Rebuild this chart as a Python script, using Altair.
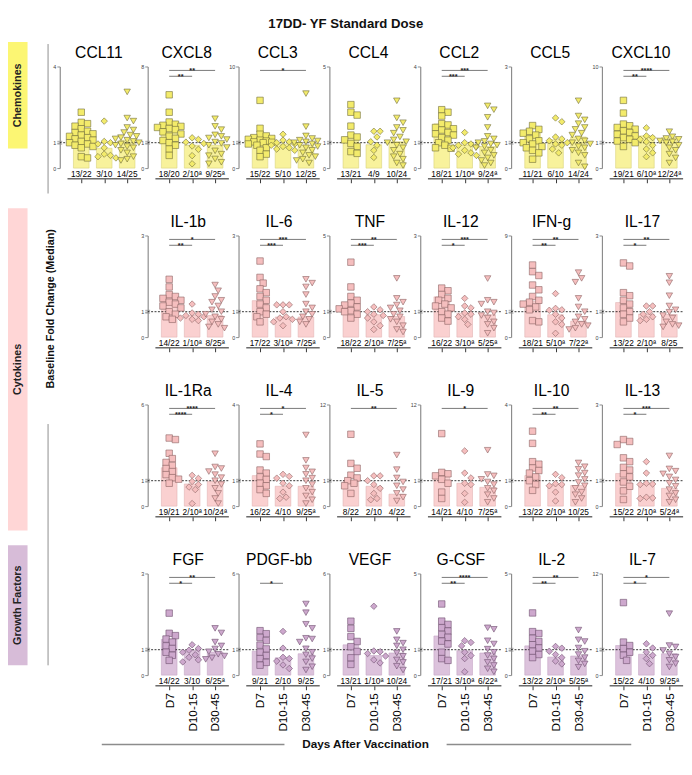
import altair as alt
import pandas as pd

GROUPS = ["D7", "D10-15", "D30-45"]
SHAPES = ["square", "diamond", "triangle-down"]

# ---------------- data ----------------
CCL11 = dict(name="CCL11", ymax=4, med=[1.3, 0.78, 1.1], n=["13/22", "3/10", "14/25"], sig=[],
             d7=[2.2, 1.8, 1.75, 1.65, 1.55, 1.45, 1.4, 1.35, 1.3, 1.25, 1.2, 1.15, 1.1, 1.05, 1.0, 0.95, 0.9, 0.85, 0.8, 0.45, 0.4],
             d10=[1.85, 1.05, 1.0, 0.95, 0.8, 0.55, 0.5, 0.45, 0.4],
             d30=[3.0, 1.97, 1.85, 1.6, 1.5, 1.4, 1.3, 1.25, 1.2, 1.15, 1.1, 1.05, 1.0, 0.95, 0.9, 0.85, 0.8, 0.7, 0.6, 0.45, 0.35, 0.3])
CXCL8 = dict(name="CXCL8", ymax=8, med=[2.5, 0.9, 0.9], n=["18/20", "2/10ª", "9/25ª"], sig=[(0, 1, "**"), (0, 2, "**")],
             d7=[5.4, 3.8, 2.9, 2.7, 2.6, 2.5, 2.4, 2.3, 2.2, 2.0, 1.8, 1.6, 1.4, 1.2, 1.0, 0.9, 0.75, 0.5],
             d10=[1.45, 1.3, 1.05, 0.97, 0.87, 0.74, 0.49, 0.17],
             d30=[3.2, 2.5, 2.2, 1.72, 1.58, 1.43, 1.29, 1.06, 0.97, 0.9, 0.81, 0.68, 0.55, 0.49, 0.36, 0.23, 0.17])
CCL3 = dict(name="CCL3", ymax=10, med=[1.5, 0.95, 0.9], n=["15/22", "5/10", "12/25"], sig=[(0, 2, "*")],
            d7=[6.0, 2.7, 2.0, 1.8, 1.6, 1.5, 1.4, 1.3, 1.2, 1.1, 1.05, 1.0, 0.95, 0.9, 0.8, 0.7, 0.55, 0.45],
            d10=[2.0, 1.3, 1.1, 1.0, 0.95, 0.9, 0.85, 0.8, 0.75, 0.7],
            d30=[6.8, 2.9, 1.8, 1.5, 1.3, 1.2, 1.1, 1.0, 0.95, 0.9, 0.85, 0.8, 0.7, 0.6, 0.5, 0.45, 0.35, 0.3, 0.2])
CCL4 = dict(name="CCL4", ymax=5, med=[1.3, 0.92, 1.05], n=["13/21", "4/9", "10/24"], sig=[],
            d7=[3.0, 2.6, 2.45, 1.87, 1.4, 1.3, 1.15, 0.97, 0.85, 0.65, 0.58],
            d10=[1.6, 1.6, 1.3, 1.05, 0.9, 0.7, 0.42],
            d30=[3.2, 2.3, 2.05, 1.8, 1.65, 1.5, 1.3, 1.15, 1.05, 1.0, 0.9, 0.8, 0.7, 0.55, 0.45, 0.35, 0.2, 0.1])
CCL2 = dict(name="CCL2", ymax=4, med=[1.74, 0.91, 0.85], n=["18/21", "1/10ª", "9/24ª"], sig=[(0, 1, "***"), (0, 2, "***")],
            d7=[2.3, 2.2, 2.05, 1.75, 1.7, 1.6, 1.55, 1.5, 1.4, 1.35, 1.3, 1.2, 1.1, 1.0, 0.9, 0.8, 0.78],
            d10=[1.4, 1.0, 0.95, 0.9, 0.85, 0.8, 0.7, 0.6, 0.55, 0.5],
            d30=[2.45, 2.3, 2.0, 1.6, 1.25, 1.15, 1.05, 1.0, 0.95, 0.9, 0.85, 0.8, 0.7, 0.6, 0.5, 0.4, 0.3, 0.2, 0.1])
CCL5 = dict(name="CCL5", ymax=3, med=[1.25, 1.08, 1.15], n=["11/21", "6/10", "14/24"], sig=[],
            d7=[1.45, 1.35, 1.3, 1.25, 1.2, 1.1, 1.05, 1.0, 0.95, 0.85, 0.8, 0.7, 0.6, 0.35],
            d10=[1.65, 1.55, 1.15, 1.1, 1.05, 1.0, 0.95, 0.9, 0.75, 0.6],
            d30=[2.1, 1.7, 1.6, 1.5, 1.4, 1.35, 1.25, 1.2, 1.1, 1.05, 1.0, 0.95, 0.85, 0.8, 0.7, 0.6, 0.5, 0.2, 0.05])
CXCL10 = dict(name="CXCL10", ymax=10, med=[2.75, 1.8, 1.6], n=["19/21", "6/10ª", "12/24ª"], sig=[(0, 1, "**"), (0, 2, "****")],
              d7=[6.0, 4.5, 3.2, 3.0, 2.8, 2.6, 2.4, 2.2, 2.0, 1.8, 1.6, 1.4, 1.2, 1.0, 0.85],
              d10=[2.75, 1.8, 1.6, 1.4, 1.1, 0.9, 0.75, 0.6, 0.45],
              d30=[2.3, 1.7, 1.5, 1.4, 1.2, 1.1, 1.0, 0.9, 0.8, 0.7, 0.55, 0.4, 0.2])

IL1b = dict(name="IL-1b", ymax=3, med=[1.42, 0.85, 0.85], n=["14/22", "1/10ª", "8/25ª"], sig=[(0, 1, "**"), (0, 2, "*")],
            d7=[1.85, 1.65, 1.45, 1.4, 1.35, 1.3, 1.25, 1.2, 1.15, 1.1, 1.0, 0.9, 0.8, 0.7],
            d10=[1.2, 0.95, 0.9, 0.85, 0.8, 0.75, 0.7, 0.65],
            d30=[1.7, 1.55, 1.4, 1.3, 1.25, 1.15, 1.05, 1.0, 0.9, 0.8, 0.7, 0.6, 0.5, 0.4, 0.35])
IL6 = dict(name="IL-6", ymax=3, med=[1.29, 0.79, 0.79], n=["17/22", "3/10ª", "7/25ª"], sig=[(0, 1, "***"), (0, 2, "***")],
           d7=[2.33, 1.9, 1.75, 1.6, 1.5, 1.4, 1.3, 1.2, 1.1, 1.0, 0.9, 0.8, 0.6],
           d10=[1.18, 1.18, 1.18, 1.0, 0.8, 0.75, 0.7, 0.6, 0.45],
           d30=[1.85, 1.75, 1.65, 1.45, 1.2, 1.1, 1.0, 0.9, 0.8, 0.7, 0.6, 0.5])
TNF = dict(name="TNF", ymax=5, med=[1.44, 0.88, 0.81], n=["18/22", "2/10ª", "7/25ª"], sig=[(0, 1, "***"), (0, 2, "**")],
           d7=[3.6, 2.3, 1.8, 1.6, 1.45, 1.35, 1.25, 1.15, 1.05, 1.0, 0.9, 0.75],
           d10=[1.25, 1.1, 1.0, 0.9, 0.85, 0.75, 0.6, 0.45, 0.3],
           d30=[2.75, 1.7, 1.5, 1.35, 1.2, 1.05, 0.9, 0.8, 0.7, 0.6, 0.45, 0.3, 0.2])
IL12 = dict(name="IL-12", ymax=3, med=[1.39, 0.94, 0.88], n=["16/22", "3/10ª", "5/25ª"], sig=[(0, 1, "*"), (0, 2, "***")],
            d7=[1.62, 1.55, 1.45, 1.35, 1.3, 1.2, 1.15, 1.1, 1.0, 0.9, 0.75, 0.63],
            d10=[1.35, 1.15, 1.1, 0.95, 0.9, 0.8, 0.7, 0.5],
            d30=[1.87, 1.3, 1.25, 1.2, 1.0, 0.95, 0.85, 0.75, 0.6, 0.5, 0.35, 0.15])
IFNg = dict(name="IFN-g", ymax=9, med=[2.1, 0.88, 0.63], n=["18/21", "5/10ª", "7/22ª"], sig=[(0, 1, "**"), (0, 2, "**")],
            d7=[5.9, 5.2, 4.8, 3.8, 3.3, 2.6, 2.2, 2.0, 1.8, 1.5, 1.2, 0.65, 0.6],
            d10=[2.9, 1.35, 1.2, 1.15, 0.9, 0.75, 0.6, 0.5, 0.15],
            d30=[5.1, 4.5, 4.1, 2.4, 1.5, 1.0, 0.8, 0.7, 0.6, 0.5, 0.45, 0.35, 0.3])
IL17 = dict(name="IL-17", ymax=3, med=[1.24, 0.91, 0.89], n=["13/22", "2/10ª", "8/25"], sig=[(0, 1, "*"), (0, 2, "**")],
            d7=[2.28, 2.2, 1.5, 1.42, 1.3, 1.2, 1.1, 1.0, 0.9, 0.75, 0.6],
            d10=[1.15, 1.15, 1.0, 0.9, 0.8, 0.7, 0.65],
            d30=[1.93, 1.76, 1.42, 1.15, 1.05, 0.98, 0.85, 0.75, 0.6, 0.5, 0.45, 0.4])

IL1Ra = dict(name="IL-1Ra", ymax=6, med=[1.85, 0.87, 0.97], n=["19/21", "2/10ª", "10/24ª"], sig=[(0, 1, "****"), (0, 2, "****")],
             d7=[3.8, 3.7, 2.8, 2.45, 2.2, 2.0, 1.8, 1.6, 1.4, 1.2, 1.1, 0.9],
             d10=[1.35, 1.15, 0.97, 0.85, 0.75, 0.65, 0.1],
             d30=[2.77, 1.9, 1.8, 1.6, 1.4, 1.2, 1.0, 0.85, 0.7, 0.5, 0.3, 0.1])
IL4 = dict(name="IL-4", ymax=4, med=[1.2, 0.78, 0.78], n=["16/22", "4/10", "9/25ª"], sig=[(0, 1, "*"), (0, 2, "*")],
           d7=[2.45, 2.05, 1.95, 1.42, 1.3, 1.15, 1.05, 0.9, 0.8, 0.65, 0.5],
           d10=[1.25, 1.17, 1.1, 0.9, 0.8, 0.55, 0.35, 0.3],
           d30=[2.8, 1.8, 1.5, 1.35, 1.25, 1.1, 1.0, 0.85, 0.7, 0.55, 0.4, 0.25, 0.1])
IL5 = dict(name="IL-5", ymax=12, med=[1.0, 0.78, 0.47], n=["8/22", "2/10", "4/22"], sig=[(0, 2, "**")],
           d7=[7.7, 3.5, 2.8, 1.8, 1.4, 1.0, 0.9, 0.8, 0.5],
           d10=[1.7, 1.7, 1.0, 0.85, 0.7, 0.5, 0.3, 0.25],
           d30=[4.7, 2.6, 1.4, 0.95, 0.8, 0.65, 0.5, 0.35, 0.2])
IL9 = dict(name="IL-9", ymax=12, med=[1.8, 0.9, 0.74], n=["14/21", "4/10", "7/25ª"], sig=[(0, 2, "*")],
           d7=[7.8, 2.2, 2.0, 1.7, 1.2, 0.9, 0.55, 0.3],
           d10=[5.3, 2.1, 1.4, 0.9, 0.85, 0.5, 0.15],
           d30=[5.4, 1.9, 1.7, 1.2, 0.95, 0.85, 0.7, 0.6, 0.45, 0.3, 0.15])
IL10 = dict(name="IL-10", ymax=4, med=[1.2, 0.85, 0.81], n=["13/22", "2/10ª", "10/25"], sig=[(0, 1, "**"), (0, 2, "**")],
            d7=[2.95, 2.47, 1.75, 1.65, 1.5, 1.4, 1.3, 1.15, 1.0, 0.85, 0.62],
            d10=[1.25, 1.12, 0.88, 0.85, 0.8, 0.55, 0.2],
            d30=[1.7, 1.55, 1.45, 1.3, 1.2, 1.05, 0.93, 0.8, 0.7, 0.55, 0.45, 0.3, 0.15])
IL13 = dict(name="IL-13", ymax=3, med=[1.19, 0.87, 0.7], n=["15/22", "2/10ª", "5/24ª"], sig=[(0, 1, "*"), (0, 2, "***")],
            d7=[2.08, 2.03, 1.95, 1.6, 1.5, 1.35, 1.28, 1.18, 1.1, 0.95, 0.78, 0.6, 0.26],
            d10=[1.5, 1.2, 0.9, 0.87, 0.85, 0.35, 0.32, 0.3],
            d30=[1.65, 1.31, 1.25, 1.18, 1.1, 1.02, 0.9, 0.78, 0.65, 0.5, 0.4, 0.25, 0.15])

FGF = dict(name="FGF", ymax=3, med=[1.27, 0.97, 0.91], n=["14/22", "3/10", "6/25ª"], sig=[(0, 1, "*"), (0, 2, "**")],
           d7=[1.96, 1.43, 1.37, 1.28, 1.2, 1.1, 1.03, 0.9, 0.78, 0.58],
           d10=[1.13, 1.03, 0.98, 0.9, 0.8, 0.7, 0.6, 0.52],
           d30=[1.56, 1.44, 1.2, 1.1, 1.02, 0.92, 0.82, 0.75, 0.68, 0.62])
PDGF = dict(name="PDGF-bb", ymax=6, med=[0.94, 0.68, 0.84], n=["9/21", "2/10", "9/25"], sig=[(0, 1, "*")],
            d7=[2.25, 2.05, 1.8, 1.6, 1.3, 1.05, 0.9, 0.77, 0.65, 0.5, 0.39],
            d10=[2.2, 1.1, 0.7, 0.65, 0.55, 0.4, 0.26],
            d30=[4.0, 3.43, 2.67, 2.4, 1.75, 1.7, 1.5, 1.06, 0.9, 0.8, 0.65, 0.52, 0.33, 0.2])
VEGF = dict(name="VEGF", ymax=6, med=[1.32, 0.77, 0.87], n=["13/21", "1/10ª", "10/24"], sig=[],
            d7=[2.87, 2.4, 1.86, 1.54, 1.2, 0.93, 0.68, 0.42],
            d10=[3.85, 0.95, 0.92, 0.85, 0.75, 0.6, 0.48],
            d30=[2.2, 1.65, 1.43, 1.25, 1.0, 0.87, 0.74, 0.6, 0.5, 0.35, 0.2])
GCSF = dict(name="G-CSF", ymax=5, med=[1.72, 0.96, 0.87], n=["17/21", "3/10ª", "6/22ª"], sig=[(0, 1, "**"), (0, 2, "****")],
            d7=[3.4, 2.5, 2.33, 2.15, 1.98, 1.8, 1.65, 1.45, 1.3, 0.9, 0.65, 0.58],
            d10=[1.47, 1.38, 1.2, 0.9, 0.77, 0.65, 0.13],
            d30=[2.15, 2.07, 1.47, 1.3, 1.03, 0.9, 0.77, 0.64, 0.5, 0.38, 0.25, 0.13])
IL2 = dict(name="IL-2", ymax=5, med=[1.2, 0.71, 0.75], n=["13/22", "2/10ª", "5/25ª"], sig=[(0, 1, "**"), (0, 2, "**")],
           d7=[2.93, 1.95, 1.85, 1.6, 1.43, 1.26, 1.09, 0.94, 0.81, 0.69],
           d10=[1.17, 1.08, 0.94, 0.81, 0.69, 0.55, 0.44],
           d30=[2.03, 1.52, 1.43, 1.09, 0.94, 0.81, 0.69, 0.56, 0.44, 0.31])
IL7 = dict(name="IL-7", ymax=12, med=[1.6, 0.82, 0.84], n=["15/22", "4/10", "9/25ª"], sig=[(0, 1, "*"), (0, 2, "*")],
           d7=[7.8, 2.1, 1.6, 1.15, 0.9, 0.78, 0.58],
           d10=[1.85, 1.24, 0.9, 0.78, 0.65, 0.45],
           d30=[6.2, 1.6, 1.4, 0.97, 0.84, 0.71, 0.58, 0.45, 0.32])

ROW1 = [CCL11, CXCL8, CCL3, CCL4, CCL2, CCL5, CXCL10]
ROW2 = [IL1b, IL6, TNF, IL12, IFNg, IL17]
ROW3 = [IL1Ra, IL4, IL5, IL9, IL10, IL13]
ROW4 = [FGF, PDGF, VEGF, GCSF, IL2, IL7]

SIDE_LABELS = ["Chemokines", "Cytokines", "Growth Factors"]

COLORS = {
    "chem": dict(bar="#F8F29C", barStroke="#DAD37C", pt="#F3EB6B", ptStroke="#6F6B3A", box="#FCF673"),
    "cyto": dict(bar="#FAD0D0", barStroke="#E2B4B4", pt="#F5BEBE", ptStroke="#8A6262", box="#FFD6D6"),
    "gf": dict(bar="#DCC2DC", barStroke="#C4A6C4", pt="#CDA8CD", ptStroke="#6B4D6B", box="#D7BCD8"),
}

FONT = "Liberation Sans"
H, H0, H1 = 115, 104, 78   # plot height, pixel of 0 and of 1
PITCH = 23.5               # px between bar centres
C0 = 22                    # px from y axis to first bar centre


def swarm(values, to_px):
    placed, out = [], []
    cands = [0, 3.2, -3.2, 6.4, -6.4, 9.6, -9.6, 12, -12]
    for v in values:
        py = to_px(v)
        best, bestd = 0, -1
        for k in cands:
            d = min([((py - qy) ** 2 + (k - qx) ** 2) ** 0.5 for qy, qx in placed] or [99])
            if d >= 6:
                best = k
                break
            if d > bestd:
                best, bestd = k, d
        placed.append((py, best))
        out.append(best)
    return out


def panel(p, cat, last, W):
    c = COLORS[cat]
    ymax = p["ymax"]

    def to_px(v):
        if v <= 1:
            return H0 - v * (H0 - H1)
        return H1 - (v - 1) / (ymax - 1) * H1

    def from_px(px):
        return ymax - px / H1 * (ymax - 1)

    ys = alt.Scale(domain=[0, 1, ymax], range=[H0, H1, 0], nice=False, zero=False)
    xs = alt.Scale(domain=[-C0 / PITCH, (W - C0) / PITCH], nice=False, zero=False)
    xaxis = alt.Axis(values=[0, 1, 2], domain=False, grid=False, ticks=True, tickSize=4,
                     tickColor="#000", tickWidth=0.8, labels=last,
                     labelExpr="['D7','D10-15','D30-45'][datum.value]", labelAngle=270,
                     labelFontSize=12, labelFont=FONT, labelColor="#000", labelPadding=3,
                     title=None)
    yaxis = alt.Axis(values=[0, 1, ymax], grid=False, tickSize=3, domainColor="#8c8c8c",
                     tickColor="#8c8c8c", domainWidth=1.2, tickWidth=1, labelFontSize=5.5,
                     labelColor="#444", labelPadding=1, labelFont=FONT, title=None, format="d")

    def X(f):
        return alt.X(f"{f}:Q", scale=xs, axis=xaxis)

    def Y(f):
        return alt.Y(f"{f}:Q", scale=ys, axis=yaxis)

    rows = []
    for g, key in enumerate(["d7", "d10", "d30"]):
        vals = sorted(p[key], reverse=True)
        offs = swarm(vals, to_px)
        for v, o in zip(vals, offs):
            rows.append(dict(x=g + o / PITCH, y=v, grp=GROUPS[g]))
    dfp = pd.DataFrame(rows)
    half = 8 / PITCH
    dfb = pd.DataFrame(dict(x0=[g - half for g in range(3)], x1=[g + half for g in range(3)],
                            med=p["med"], base=[0, 0, 0]))
    dfc = pd.DataFrame(dict(g=[0, 1, 2], lab=p["n"]))
    # axis-break marks ("=") just above and below 1
    dfk = pd.DataFrame(dict(yk=[1 + 1.4 / H1 * (ymax - 1), 1 - 1.4 / (H0 - H1)]))

    layers = [
        alt.Chart(dfb).mark_bar(fill=c["bar"], stroke=c["barStroke"], strokeWidth=0.6).encode(
            x=X("x0"), x2="x1:Q", y=Y("med"), y2="base:Q"),
        alt.Chart(pd.DataFrame(dict(one=[1]))).mark_rule(strokeDash=[2, 1.5], color="#000", strokeWidth=0.8).encode(
            y=Y("one"), x=alt.value(0), x2=alt.value(W)),
        alt.Chart(dfk).mark_rule(color="#8c8c8c", strokeWidth=0.8).encode(
            y=Y("yk"), x=alt.value(-2.5), x2=alt.value(2.5)),
        alt.Chart(pd.DataFrame(dict(a=[-0.6], b=[2.6]))).mark_rule(color="#000", strokeWidth=0.9).encode(
            x=X("a"), x2="b:Q", y=alt.value(H)),
        alt.Chart(dfp).mark_point(filled=True, fill=c["pt"], stroke=c["ptStroke"], strokeWidth=0.6,
                                  size=44, opacity=1, fillOpacity=1).encode(
            x=X("x"), y=Y("y"),
            shape=alt.Shape("grp:N", scale=alt.Scale(domain=GROUPS, range=SHAPES), legend=None)),
        alt.Chart(dfc).mark_text(fontSize=8.5, font=FONT, baseline="middle", color="#000").encode(
            x=X("g"), y=alt.value(H0 + 6), text="lab:N"),
    ]
    if p["sig"]:
        srows = []
        for g1, g2, st in p["sig"]:
            level = 4 if g2 == 2 else 10
            srows.append(dict(g1=g1, g2=g2, gm=(g1 + g2) / 2, yb=from_px(level), st=st))
        dfs = pd.DataFrame(srows)
        layers.append(alt.Chart(dfs).mark_rule(color="#555", strokeWidth=0.8).encode(
            x=X("g1"), x2="g2:Q", y=Y("yb")))
        layers.append(alt.Chart(dfs).mark_text(fontSize=7.5, fontWeight="bold", font=FONT, baseline="alphabetic",
                                               dy=2.5, color="#222").encode(
            x=X("gm"), y=Y("yb"), text="st:N"))
    return alt.layer(*layers).properties(
        width=W, height=H,
        title=alt.TitleParams(p["name"], fontSize=16, font=FONT, fontWeight="normal", color="#000",
                              anchor="middle", offset=4))


def spacer(w):
    return alt.Chart(pd.DataFrame(dict(a=[0]))).mark_point(opacity=0).encode(
        x=alt.X("a:Q", axis=None), y=alt.Y("a:Q", axis=None)).properties(width=w, height=H)


cells = [panel(p, "chem", False, 80) for p in ROW1]
for rw, cat, last in [(ROW2, "cyto", False), (ROW3, "cyto", False), (ROW4, "gf", True)]:
    cells.append(spacer(21))
    cells.extend(panel(p, cat, last, 83) for p in rw)

grid = alt.concat(*cells, columns=7, spacing={"row": 58, "column": 10}, bounds="flush", align="none")

# left strip: category boxes, shared y title and footer (px relative to first-row plot top / page margin)
LEFT_H = 634
boxes = pd.DataFrame(dict(x1=[0, 0, 0], x2=[20, 20, 20], xm=[10, 10, 10],
                          y1=[-25, 145, 490], y2=[84, 475, 613], lab=SIDE_LABELS,
                          col=[COLORS["chem"]["box"], COLORS["cyto"]["box"], COLORS["gf"]["box"]]))
boxes["ym"] = (boxes.y1 + boxes.y2) / 2
vlines = pd.DataFrame(dict(x=[41, 41], a=[-23, 366], b=[130, 613]))
ytitle = pd.DataFrame(dict(x=[44], y=[248], t=["Baseline Fold Change (Median)"]))
foot_lines = pd.DataFrame(dict(a=[96, 449], b=[283, 638], y=[694, 694]))
foot_text = pd.DataFrame(dict(x=[366], y=[694], t=["Days After Vaccination"]))

lxs = alt.Scale(domain=[0, 40], range=[0, 40], nice=False, zero=False)
lys = alt.Scale(domain=[0, LEFT_H], range=[0, LEFT_H], nice=False, zero=False)


def LX(f):
    return alt.X(f"{f}:Q", scale=lxs, axis=None)


def LY(f):
    return alt.Y(f"{f}:Q", scale=lys, axis=None)


left = alt.layer(
    alt.Chart(boxes).mark_rect().encode(
        x=LX("x1"), x2="x2:Q", y=LY("y1"), y2="y2:Q", color=alt.Color("col:N", scale=None)),
    alt.Chart(boxes).mark_text(angle=270, fontSize=11, fontWeight="bold", font=FONT, color="#222").encode(
        x=LX("xm"), y=LY("ym"), text="lab:N"),
    alt.Chart(vlines).mark_rule(color="#8c8c8c", strokeWidth=1).encode(
        x=LX("x"), y=LY("a"), y2="b:Q"),
    alt.Chart(ytitle).mark_text(angle=270, fontSize=11, fontWeight="bold", font=FONT, color="#111").encode(
        x=LX("x"), y=LY("y"), text="t:N"),
    alt.Chart(foot_lines).mark_rule(color="#8c8c8c", strokeWidth=1.5).encode(
        x=LX("a"), x2="b:Q", y=LY("y")),
    alt.Chart(foot_text).mark_text(fontSize=12, fontWeight="bold", font=FONT, color="#111").encode(
        x=LX("x"), y=LY("y"), text="t:N"),
).properties(width=40, height=LEFT_H)

chart = alt.hconcat(left, grid, spacing=13, bounds="flush").properties(
    padding=0,
    title=alt.TitleParams("17DD- YF Standard Dose", fontSize=13.5, fontWeight="bold", font=FONT,
                          color="#111", anchor="middle", offset=12)
).configure_view(stroke=None)

chart.save("out.html", embed_options={"renderer": "svg", "actions": False})
